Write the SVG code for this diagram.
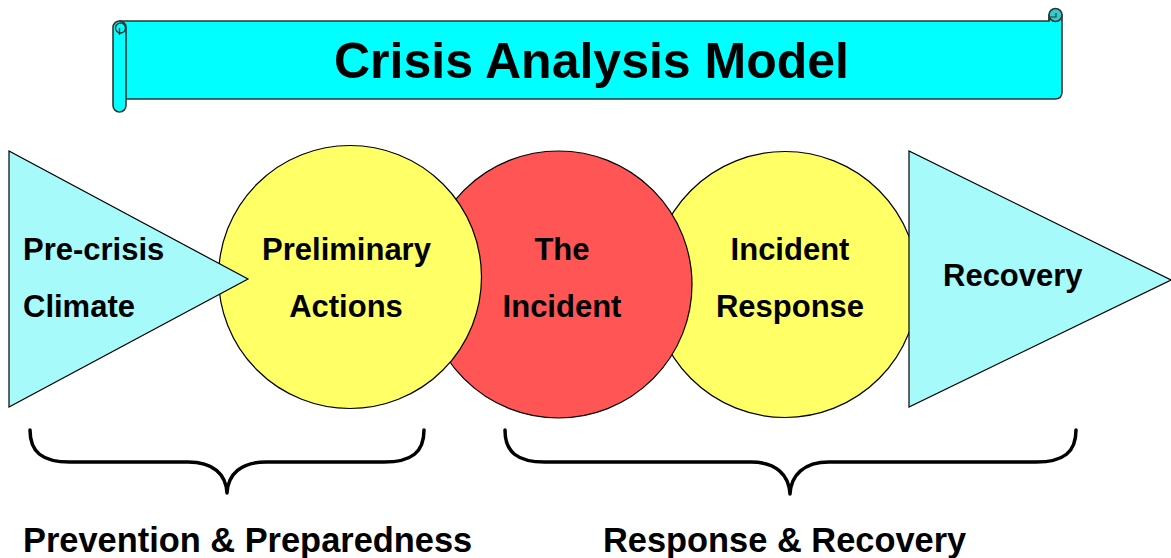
<svg xmlns="http://www.w3.org/2000/svg" width="1171" height="558" viewBox="0 0 1171 558">
  <style>
    .lbl { font-family: "Liberation Sans", Arial, sans-serif; font-weight: bold; fill: #000; }
    .node { font-size: 31px; }
    .title { font-size: 50px; }
    .phase { font-size: 34.4px; }
    .shape { stroke: #000; stroke-width: 1.2; }
    .tri { fill: #a6fafa; }
    .yellow { fill: #ffff66; }
    .red { fill: #ff5555; }
    .scroll { fill: #00ffff; stroke: #333; stroke-width: 1.6; }
    .brace { fill: none; stroke: #000; stroke-width: 3.5; stroke-linecap: round; stroke-linejoin: round; }
  </style>
  <rect width="1171" height="558" fill="#fff"/>

  <!-- title banner (horizontal scroll) -->
  <g id="banner">
    <path class="scroll" d="M119,21 H1049 V15 H1062 V92 Q1062,99 1055,99 H126"/>
    <circle cx="1055.5" cy="15" r="6.5" fill="#33cccc" stroke="#333" stroke-width="1.6"/>
    <path d="M1049,21 V17 M1049,17 H1056 V13" fill="none" stroke="#333" stroke-width="1.2"/>
    <rect class="scroll" x="113" y="21" width="13" height="91" rx="6.5"/>
    <circle cx="120.5" cy="28" r="5" fill="none" stroke="#333" stroke-width="1.4"/>
    <path d="M119.5,28 V35" fill="none" stroke="#333" stroke-width="1.4"/>
    <text class="lbl title" x="591.5" y="78" text-anchor="middle">Crisis Analysis Model</text>
  </g>

  <!-- stages, back to front -->
  <g id="incident-response">
    <circle class="shape yellow" cx="785" cy="284.5" r="133"/>
    <text class="lbl node" x="790" y="260" text-anchor="middle">Incident</text>
    <text class="lbl node" x="790" y="317" text-anchor="middle">Response</text>
  </g>
  <g id="the-incident">
    <circle class="shape red" cx="558.5" cy="284.5" r="133.5"/>
    <text class="lbl node" x="562" y="260" text-anchor="middle">The</text>
    <text class="lbl node" x="562" y="317" text-anchor="middle">Incident</text>
  </g>
  <g id="preliminary-actions">
    <circle class="shape yellow" cx="350" cy="277" r="131.5"/>
    <text class="lbl node" x="346.5" y="260" text-anchor="middle">Preliminary</text>
    <text class="lbl node" x="346" y="317" text-anchor="middle">Actions</text>
  </g>
  <g id="pre-crisis-climate">
    <polygon class="shape tri" points="9,151 9,407 248,279"/>
    <text class="lbl node" x="23" y="260">Pre-crisis</text>
    <text class="lbl node" x="23" y="317">Climate</text>
  </g>
  <g id="recovery">
    <polygon class="shape tri" points="909,151 909,407 1171,280"/>
    <text class="lbl node" x="943" y="286">Recovery</text>
  </g>

  <!-- phase braces -->
  <g id="connectors">
    <path class="brace" d="M30,430 C30,452 42,462 70,462 L188,462 C213,462 226,474 227,493 C228,474 241,462 266,462 L384,462 C412,462 424,452 424,430"/>
    <path class="brace" d="M505,430 C505,452 517,462 545,462 L751,462 C776,462 789,475 790,494 C791,475 804,462 829,462 L1036,462 C1064,462 1076,452 1076,430"/>
  </g>

  <g id="phase-labels">
    <text class="lbl phase" x="23" y="552">Prevention &amp; Preparedness</text>
    <text class="lbl phase" x="603" y="552">Response &amp; Recovery</text>
  </g>
</svg>
